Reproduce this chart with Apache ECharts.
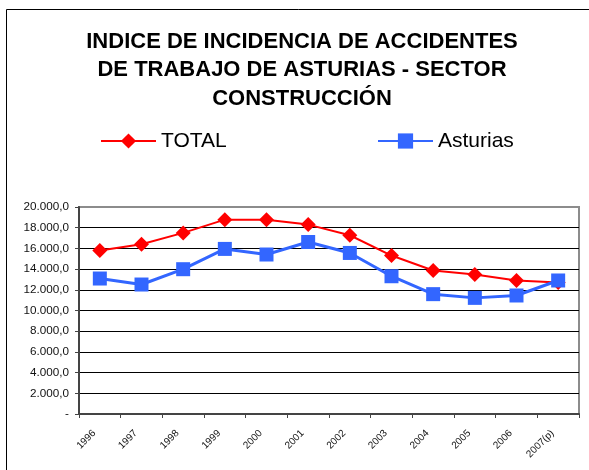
<!DOCTYPE html>
<html>
<head>
<meta charset="utf-8">
<script src="https://cdn.jsdelivr.net/npm/echarts@6/dist/echarts.min.js"></script>
<style>html,body{margin:0;padding:0;background:#fff;}#c{width:589px;height:470px;}</style>
</head>
<body>
<div id="c"></div>
<script>
const categories = ['1996','1997','1998','1999','2000','2001','2002','2003','2004','2005','2006','2007(p)'];
const totalValues = [15800, 16400, 17500, 18780, 18760, 18300, 17270, 15310, 13860, 13480, 12900, 12700];
const asturiasValues = [13090, 12510, 13990, 15950, 15410, 16620, 15560, 13310, 11580, 11220, 11450, 12900];
const seriesNames = ['TOTAL', 'Asturias'];
const titleText = 'INDICE DE INCIDENCIA DE ACCIDENTES\nDE TRABAJO DE ASTURIAS - SECTOR\nCONSTRUCCIÓN';

function fmt(v) {
  if (v === 0) return '-';
  const s = Math.round(v).toString().replace(/\B(?=(\d{3})+(?!\d))/g, '.');
  return s + ',0';
}

const splitColors = [];
for (let i = 0; i < 10; i++) splitColors.push('#000000');
splitColors.push('rgba(0,0,0,0)');

const chart = echarts.init(document.getElementById('c'), null, {renderer: 'canvas'});
chart.setOption({
  animation: false,
  backgroundColor: '#ffffff',
  textStyle: {fontFamily: 'Liberation Sans, Arial, sans-serif'},
  title: {
    text: titleText,
    left: 302,
    textAlign: 'center',
    top: 27.5,
    padding: 0,
    textStyle: {fontSize: 22, fontWeight: 'bold', color: '#000', lineHeight: 28.5, fontFamily: 'Liberation Sans, Arial, sans-serif'}
  },
  legend: [
    {
      data: [seriesNames[0]], left: 100, top: 129, padding: 0,
      itemWidth: 55, itemHeight: 19, itemGap: 0,
      textStyle: {fontSize: 21, color: '#000', lineHeight: 24, padding: [0,0,0,0]}
    },
    {
      data: [seriesNames[1]], left: 377, top: 129, padding: 0,
      itemWidth: 55, itemHeight: 19, itemGap: 0,
      textStyle: {fontSize: 21, color: '#000', lineHeight: 24, padding: [0,0,0,0]}
    }
  ],
  grid: {
    left: 79, right: 10, top: 207, bottom: 56,
    show: true, borderColor: '#8c8c8c', borderWidth: 2, backgroundColor: '#fff',
    containLabel: false
  },
  xAxis: {
    type: 'category',
    data: categories,
    boundaryGap: true,
    axisLine: {lineStyle: {color: '#444', width: 2}},
    axisTick: {show: true, alignWithLabel: false, length: 4, lineStyle: {color: '#444', width: 1}},
    axisLabel: {rotate: 45, fontSize: 10, color: '#111', margin: 12, interval: 0, padding: [0, 8, 0, 0]}
  },
  yAxis: {
    type: 'value',
    min: 0, max: 20000, interval: 2000,
    axisLine: {show: true, lineStyle: {color: '#444', width: 2}},
    axisTick: {show: true, length: 4, lineStyle: {color: '#444', width: 1}},
    axisLabel: {fontSize: 11.7, color: '#111', margin: 10, formatter: fmt},
    splitLine: {show: true, lineStyle: {color: splitColors, width: 1}}
  },
  series: [
    {
      name: seriesNames[0], type: 'line', data: totalValues,
      symbol: 'diamond', symbolSize: 15,
      lineStyle: {color: '#ff0000', width: 2},
      itemStyle: {color: '#ff0000'},
      z: 2
    },
    {
      name: seriesNames[1], type: 'line', data: asturiasValues,
      symbol: 'rect', symbolSize: 14,
      lineStyle: {color: '#3366ff', width: 3},
      itemStyle: {color: '#3366ff'},
      z: 3
    }
  ],
  graphic: [
    {type: 'rect', silent: true, z: 100,
     shape: {x: 6.5, y: 9.5, width: 700, height: 700},
     style: {fill: 'none', stroke: '#000', lineWidth: 1}}
  ]
});
</script>
</body>
</html>
